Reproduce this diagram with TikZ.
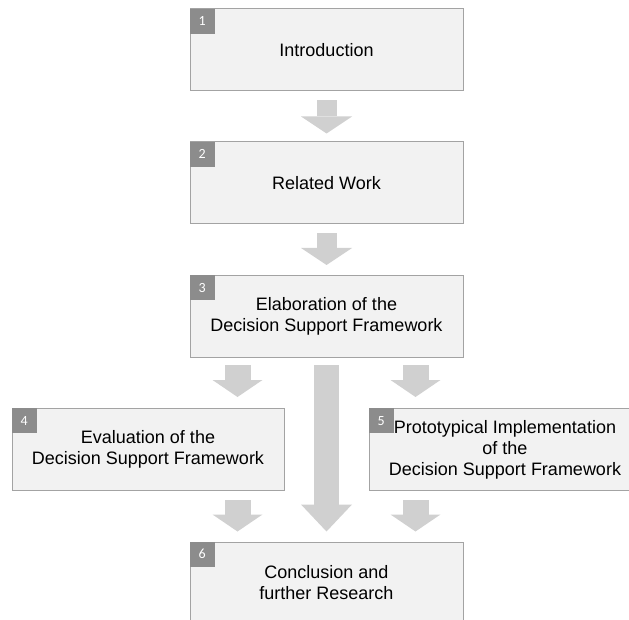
\documentclass[tikz,border=0pt]{standalone}
\usepackage{fontspec}
\setmainfont{Liberation Sans}
\newfontfamily\badgefont{Carlito}
\usetikzlibrary{arrows.meta,positioning}

\definecolor{boxfill}{HTML}{F2F2F2}
\definecolor{boxline}{HTML}{A3A3A3}
\definecolor{badgegray}{HTML}{8C8C8C}
\definecolor{arrowgray}{HTML}{D0D0D0}

\tikzset{
    chapter/.style={draw=boxline,fill=boxfill,line width=1pt,minimum width=273pt,
        minimum height=82pt,inner sep=0pt,align=center,font=\fontsize{18}{21}\selectfont},
    badge/.style={fill=badgegray,text=white,minimum size=25pt,inner sep=0pt,
        anchor=north west,font=\badgefont\fontsize{14}{14}\selectfont},
    flow/.style={draw=arrowgray,line width=26pt,
        -{Triangle[width=50pt,length=17pt,line width=0pt]},shorten <=7pt,shorten >=10pt}
}

\begin{document}
\begin{tikzpicture}[x=1pt,y=-1pt]
\clip (0,0) rectangle (629,620);

\node[chapter] (intro) at (326.5,50) {Introduction};
\node[chapter] (related) at (326.5,183) {Related Work};
\node[chapter] (elab) at (326.5,316.5) {Elaboration of the\\Decision Support Framework};
\node[chapter,minimum width=272pt] (eval) at (148,449.5) {Evaluation of the\\Decision Support Framework};
\node[chapter,minimum width=272pt] (proto) at (505,449.5) {Prototypical Implementation\\of the\\Decision Support Framework};
\node[chapter] (concl) at (326.5,583) {Conclusion and\\further Research};

\node[badge] at (intro.north west) {1};
\node[badge] at (related.north west) {2};
\node[badge] at (elab.north west) {3};
\node[badge] at (eval.north west) {4};
\node[badge] at (proto.north west) {5};
\node[badge] at (concl.north west) {6};

\coordinate (left) at (237.5,0);
\coordinate (right) at (415.5,0);

\draw[flow,line width=20pt,-{Triangle[width=51pt,length=17pt,line width=0pt]},shorten <=9pt,shorten >=8pt]
    (intro) -- (related);
\draw[flow,line width=20pt,-{Triangle[width=51pt,length=17pt,line width=0pt]},shorten <=9pt]
    (related) -- (elab);

\draw[flow,shorten >=11pt] (elab.south -| left) -- (eval.north -| left);
\draw[flow,shorten >=11pt] (elab.south -| right) -- (proto.north -| right);
\draw[flow,line width=25pt,-{Triangle[width=51pt,length=27pt,line width=0pt]}] (elab) -- (concl);

\draw[flow,shorten <=9pt] (eval.south -| left) -- (concl.north -| left);
\draw[flow,shorten <=9pt] (proto.south -| right) -- (concl.north -| right);
\end{tikzpicture}
\end{document}
